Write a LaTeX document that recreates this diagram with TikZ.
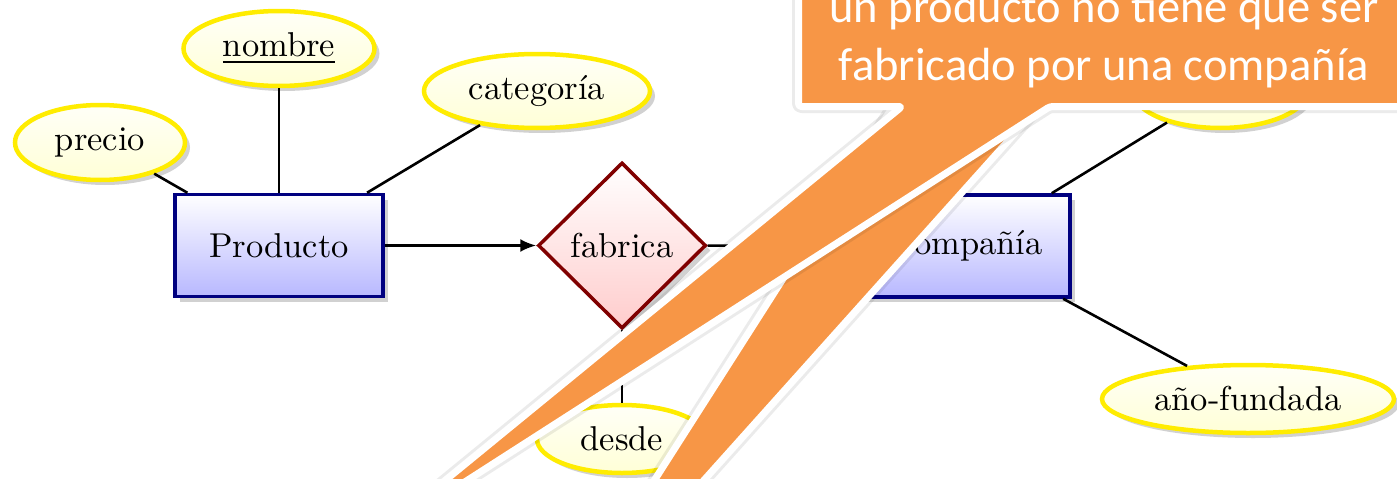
\documentclass[tikz,border=0pt]{standalone}
\usepackage{fontspec}
\usepackage{graphicx}
\newfontfamily\calloutfont{Carlito}
\usetikzlibrary{shapes.geometric,shadows,arrows.meta}
\definecolor{ervblue}{RGB}{0,0,128}
\definecolor{ervred}{RGB}{128,0,0}
\definecolor{ervyellow}{RGB}{255,236,0}
\definecolor{callorange}{RGB}{247,150,70}
\newcommand{\erlbl}[1]{\scalebox{3.45}{#1}}
\begin{document}
\begin{tikzpicture}[x=1pt,y=-1pt,
  erbase/.style={inner sep=0pt, line width=3.5pt,
    drop shadow={shadow xshift=5pt,shadow yshift=-5pt,fill=black,opacity=0.18}},
  entitybox/.style={erbase, rectangle, draw=ervblue, top color=white,
    bottom color=blue!28, minimum width=208pt, minimum height=102pt},
  relbox/.style={erbase, diamond, draw=ervred, top color=white,
    bottom color=red!20, minimum width=168pt, minimum height=166pt},
  attrbox/.style={erbase, ellipse, draw=ervyellow, line width=4.5pt,
    top color=yellow!3, bottom color=yellow!16},
  conn/.style={line width=2.6pt, black},
  calloutshape/.style={fill=callorange, draw=white, line width=7pt,
    line join=round, rounded corners=3pt},
  callouthalo/.style={draw=black, opacity=0.08, line width=13pt,
    line join=round, rounded corners=3pt},
  callouttext/.style={text=white, font=\calloutfont\fontsize{46.5}{57}\selectfont,
    inner sep=0pt, anchor=base}
]
\useasboundingbox (0,0) rectangle (1397,479);
\clip (0,0) rectangle (1397,479);

% attributes and entities
\node[attrbox, minimum width=170pt, minimum height=75pt] (precio) at (100,142.5) {\erlbl{precio}};
\node[attrbox, minimum width=191pt, minimum height=75pt] (nombre) at (279,48.5) {\erlbl{\underline{nombre}}};
\node[attrbox, minimum width=226pt, minimum height=74pt] (categ) at (537,91) {\erlbl{categoría}};
\node[entitybox] (prod) at (279,245.5) {\erlbl{Producto}};
\node[relbox] (fab) at (622,245.5) {\erlbl{fabrica}};
\node[attrbox, minimum width=170pt, minimum height=68pt] (desde) at (622,439) {\erlbl{desde}};
\node[entitybox] (comp) at (966,246) {\erlbl{Compañía}};
\node[attrbox, minimum width=176pt, minimum height=76pt] (cattr) at (1220,90) {};
\node[attrbox, minimum width=292pt, minimum height=68pt] (anio) at (1248,399) {\erlbl{año-fundada}};

% connectors
\draw[conn] (precio) -- (prod);
\draw[conn] (nombre) -- (prod);
\draw[conn] (categ) -- (prod);
\draw[conn, -{Latex[length=16pt,width=13pt]}] (prod) -- (fab);
\draw[conn] (fab) -- (comp);
\draw[conn] (fab) -- (desde);
\draw[conn] (comp) -- (cattr);
\draw[conn] (comp) -- (anio);

% callout: second pointer (underneath)
\path[callouthalo] (903.5,90) -- (532,672) -- (1053.8,90) -- cycle;
\path[calloutshape] (903.5,90) -- (532,672) -- (1053.8,90) -- cycle;
% callout: box with first pointer
\path[callouthalo] (798.5,-60) -- (798.5,106.5) -- (902,106.5) -- (365,546)
  -- (1050,106.5) -- (1420,106.5) -- (1420,-60) -- cycle;
\path[calloutshape] (798.5,-60) -- (798.5,106.5) -- (902,106.5) -- (365,546)
  -- (1050,106.5) -- (1420,106.5) -- (1420,-60) -- cycle;

\node[callouttext] (ctext1) at (1104,23) {un producto no tiene que ser};
\node[callouttext] (ctext2) at (1104,80) {fabricado por una compañía};
\end{tikzpicture}
\end{document}
